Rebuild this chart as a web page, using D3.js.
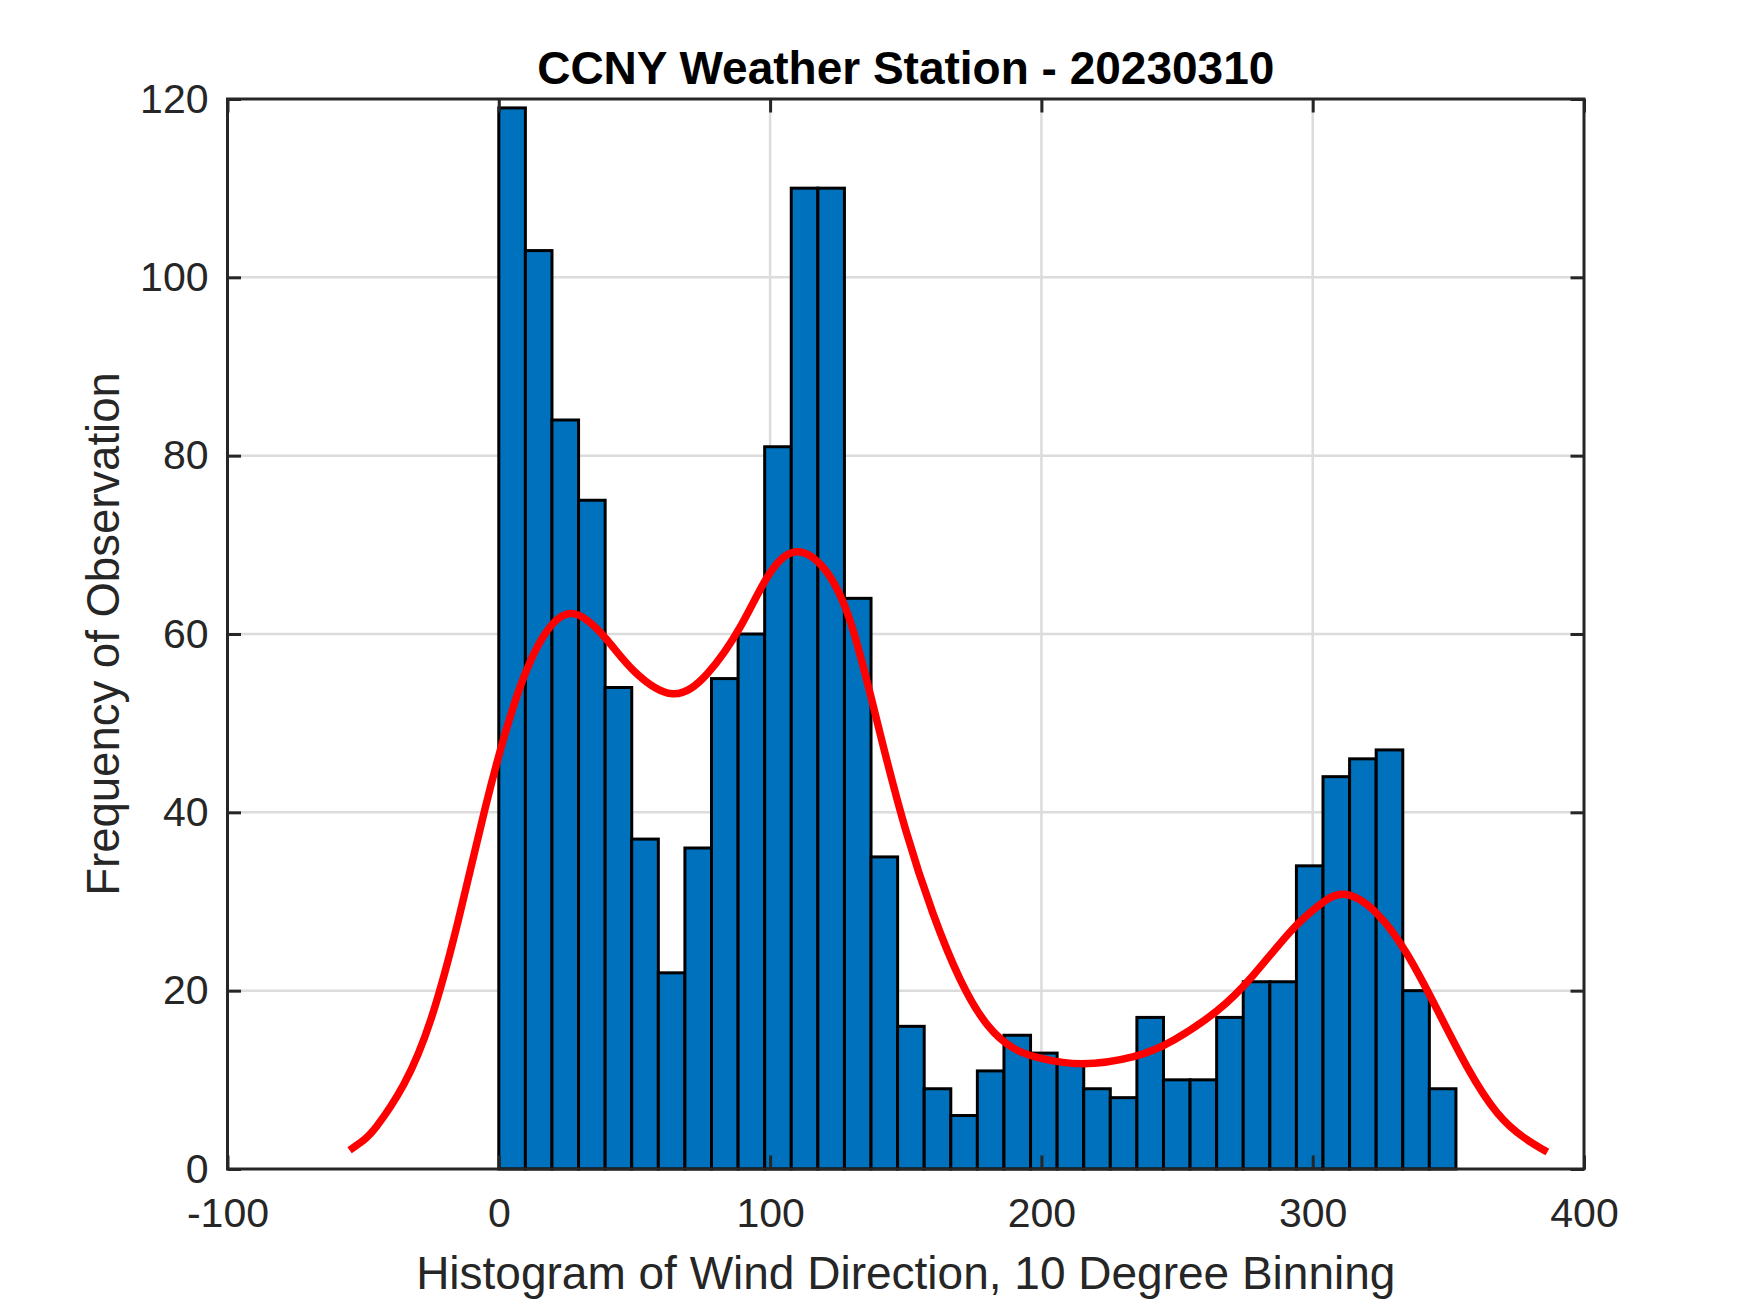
<!DOCTYPE html>
<html>
<head>
<meta charset="utf-8">
<script src="https://cdn.jsdelivr.net/npm/d3@7"></script>
<style>
  body { margin: 0; background: #fff; }
  svg { display: block; }
</style>
</head>
<body>
<div id="chart"></div>
<script>
// histogram counts, 36 bins spanning 0 .. 352.8 degrees
const counts = [119, 103, 84, 75, 54, 37, 22, 36, 55, 60, 81, 110, 110, 64, 35, 16, 9, 6,
                11, 15, 13, 12, 9, 8, 17, 10, 10, 17, 21, 21, 34, 44, 46, 47, 20, 9];
const binLo = 0;
const binHi = 352.8;

// red fitted curve
const curveX = [-55, -50, -45, -35, -25, -15, -5, 5, 15, 27, 40, 50, 64, 77, 89, 99, 109, 120, 130,
                140, 150, 160, 170, 180, 190, 200, 215, 234, 249, 265, 278, 292, 302, 311.5,
                323.5, 335, 346, 357, 368, 378, 386.5];
const curveY = [2.1, 3.2, 4.8, 9.5, 16.8, 27.8, 40.5, 51.5, 59.0, 62.3, 59.3, 55.8, 53.3, 55.6, 60.8,
                66.4, 69.2, 67.3, 61.0, 49.5, 38.0, 28.7, 21.3, 16.2, 13.5, 12.4, 11.8, 12.6, 14.5,
                17.8, 21.7, 26.7, 29.5, 30.8, 28.7, 24.0, 17.8, 11.4, 6.3, 3.5, 1.9];

const xTicks = [-100, 0, 100, 200, 300, 400];
const yTicks = [0, 20, 40, 60, 80, 100, 120];

const width = 1750, height = 1313;
const plot = { left: 227.5, right: 1584, top: 99, bottom: 1169 };
const axisColor = '#262626';
const font = '"Liberation Sans", Arial, Helvetica, sans-serif';

const svg = d3.select('#chart')
  .append('svg')
  .attr('width', width)
  .attr('height', height)
  .style('font-family', font);

const x = d3.scaleLinear().domain([-100, 400]).range([plot.left, plot.right]);
const y = d3.scaleLinear().domain([0, 120]).range([plot.bottom, plot.top]);

// grid
svg.append('g')
  .selectAll('line')
  .data(xTicks.slice(1, -1))
  .enter()
  .append('line')
  .attr('x1', d => x(d)).attr('x2', d => x(d))
  .attr('y1', plot.top).attr('y2', plot.bottom)
  .attr('stroke', '#dcdcdc')
  .attr('stroke-width', 2.5);

svg.append('g')
  .selectAll('line')
  .data(yTicks.slice(1, -1))
  .enter()
  .append('line')
  .attr('x1', plot.left).attr('x2', plot.right)
  .attr('y1', d => y(d)).attr('y2', d => y(d))
  .attr('stroke', '#dcdcdc')
  .attr('stroke-width', 2.5);

// bars
const binW = (binHi - binLo) / counts.length;
svg.append('g')
  .selectAll('rect')
  .data(counts)
  .enter()
  .append('rect')
  .attr('x', (d, i) => x(binLo + i * binW))
  .attr('width', (d, i) => x(binLo + (i + 1) * binW) - x(binLo + i * binW))
  .attr('y', d => y(d))
  .attr('height', d => y(0) - y(d))
  .attr('fill', '#0072BD')
  .attr('stroke', '#000')
  .attr('stroke-width', 3);

// fitted curve
const line = d3.line()
  .x((d, i) => x(curveX[i]))
  .y(d => y(d))
  .curve(d3.curveNatural);

svg.append('path')
  .datum(curveY)
  .attr('d', line)
  .attr('fill', 'none')
  .attr('stroke', '#ff0000')
  .attr('stroke-width', 7.5)
  .attr('stroke-linejoin', 'round');

// axes (box with inward ticks on all sides)
const tickLen = 13.5;
const fmt = d => String(d);

const styleAxis = g => {
  g.select('.domain').remove();
  g.selectAll('.tick line').attr('stroke', axisColor).attr('stroke-width', 3);
  g.selectAll('.tick text')
    .attr('fill', axisColor)
    .style('font-size', '41px')
    .style('font-family', font);
};

svg.append('g')
  .attr('transform', `translate(0,${plot.bottom})`)
  .call(d3.axisBottom(x).tickValues(xTicks).tickFormat(fmt).tickSizeInner(-tickLen).tickSizeOuter(0).tickPadding(29))
  .call(styleAxis);

svg.append('g')
  .attr('transform', `translate(0,${plot.top})`)
  .call(d3.axisTop(x).tickValues(xTicks).tickFormat('').tickSizeInner(-tickLen).tickSizeOuter(0))
  .call(styleAxis);

svg.append('g')
  .attr('transform', `translate(${plot.left},0)`)
  .call(d3.axisLeft(y).tickValues(yTicks).tickFormat(fmt).tickSizeInner(-tickLen).tickSizeOuter(0).tickPadding(19))
  .call(styleAxis);

svg.append('g')
  .attr('transform', `translate(${plot.right},0)`)
  .call(d3.axisRight(y).tickValues(yTicks).tickFormat('').tickSizeInner(-tickLen).tickSizeOuter(0))
  .call(styleAxis);

svg.append('rect')
  .attr('x', plot.left).attr('y', plot.top)
  .attr('width', plot.right - plot.left)
  .attr('height', plot.bottom - plot.top)
  .attr('fill', 'none')
  .attr('stroke', axisColor)
  .attr('stroke-width', 3);

// texts
svg.append('text')
  .attr('x', (plot.left + plot.right) / 2)
  .attr('y', 84)
  .attr('text-anchor', 'middle')
  .style('font-size', '46px')
  .style('font-weight', 'bold')
  .attr('fill', '#000')
  .text('CCNY Weather Station - 20230310');

svg.append('text')
  .attr('x', (plot.left + plot.right) / 2)
  .attr('y', 1289)
  .attr('text-anchor', 'middle')
  .style('font-size', '46px')
  .attr('fill', axisColor)
  .text('Histogram of Wind Direction, 10 Degree Binning');

svg.append('text')
  .attr('transform', `translate(119,${(plot.top + plot.bottom) / 2}) rotate(-90)`)
  .attr('text-anchor', 'middle')
  .style('font-size', '45.5px')
  .attr('fill', axisColor)
  .text('Frequency of Observation');
</script>
</body>
</html>
